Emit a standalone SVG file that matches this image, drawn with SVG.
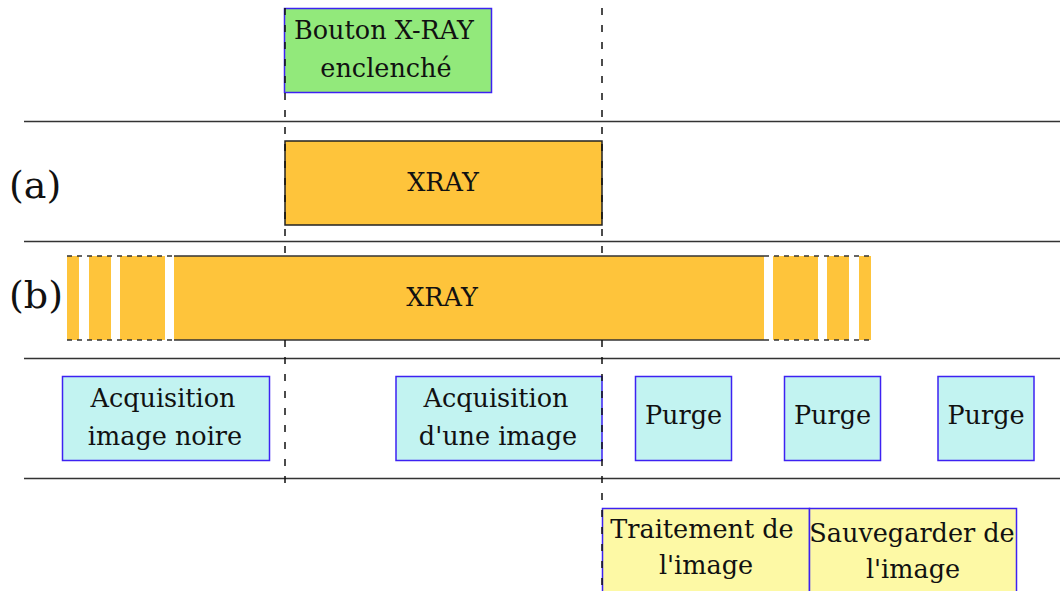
<svg xmlns="http://www.w3.org/2000/svg" width="1060" height="591" viewBox="0 0 1060 591">
<style>
text{font-family:"DejaVu Serif","Liberation Serif",serif;font-size:25.5px;fill:#111;text-anchor:middle}
.lbl{font-size:38px;text-anchor:start}
.sep{stroke:#333;stroke-width:1.5}
.box{stroke:#3d22f2;stroke-width:1.5}
.g{fill:#92e97b}.c{fill:#c2f3f1}.y{fill:#fdf9a5}.o{fill:#fec43b}
.dash{stroke:#111;stroke-width:1.5;stroke-dasharray:7 10;fill:none}
.sdash{stroke:#333;stroke-width:1.5;stroke-dasharray:5 5;fill:none}
.solid{stroke:#333;stroke-width:1.5;fill:none}
</style>
<rect width="1060" height="591" fill="#fff"/>
<g id="separators">
<line class="sep" x1="24" y1="121.5" x2="1060" y2="121.5"/>
<line class="sep" x1="24" y1="241.5" x2="1060" y2="241.5"/>
<line class="sep" x1="24" y1="358.5" x2="1060" y2="358.5"/>
<line class="sep" x1="24" y1="478.5" x2="1060" y2="478.5"/>
</g>
<text class="lbl" x="9" y="198">(a)</text>
<text class="lbl" x="9" y="308">(b)</text>
<g id="bouton">
<rect class="box g" x="284.5" y="8.5" width="207" height="84"/>
<text x="384" y="39">Bouton X-RAY</text>
<text x="386" y="77">enclenché</text>
</g>
<g id="xray-a">
<rect class="o" x="285" y="141" width="317" height="84" stroke="#222" stroke-width="1.5"/>
<text x="443" y="191">XRAY</text>
</g>
<g id="xray-b">
<rect class="o" x="67" y="256" width="12" height="84"/>
<rect class="o" x="89" y="256" width="22" height="84"/>
<rect class="o" x="120" y="256" width="45" height="84"/>
<rect class="o" x="174" y="256" width="590" height="84"/>
<rect class="o" x="773" y="256" width="45" height="84"/>
<rect class="o" x="827" y="256" width="22" height="84"/>
<rect class="o" x="859" y="256" width="12" height="84"/>
<line class="sdash" x1="67" y1="256" x2="174" y2="256"/>
<line class="sdash" x1="67" y1="340" x2="174" y2="340"/>
<line class="sdash" x1="764" y1="256" x2="871" y2="256"/>
<line class="sdash" x1="764" y1="340" x2="871" y2="340"/>
<line class="solid" x1="174" y1="256" x2="764" y2="256"/>
<line class="solid" x1="174" y1="340" x2="764" y2="340"/>
<text x="442" y="306">XRAY</text>
</g>
<g id="acq-noire">
<rect class="box c" x="62.5" y="376.5" width="207" height="84"/>
<text x="163" y="407">Acquisition</text>
<text x="165" y="445">image noire</text>
</g>
<g id="acq-image">
<rect class="box c" x="396" y="376.5" width="206" height="84"/>
<text x="496" y="407">Acquisition</text>
<text x="498" y="445">d'une image</text>
</g>
<g id="purge1">
<rect class="box c" x="635.5" y="376.5" width="96" height="84"/>
<text x="683.5" y="424">Purge</text>
</g>
<g id="purge2">
<rect class="box c" x="784.5" y="376.5" width="96" height="84"/>
<text x="832.5" y="424">Purge</text>
</g>
<g id="purge3">
<rect class="box c" x="938" y="376.5" width="96" height="84"/>
<text x="986" y="424">Purge</text>
</g>
<g id="traitement">
<rect class="box y" x="602.5" y="508.5" width="207" height="90"/>
<text x="702" y="538">Traitement de</text>
<text x="706" y="574">l'image</text>
</g>
<g id="sauvegarder">
<rect class="box y" x="809.5" y="508.5" width="207" height="90"/>
<text x="912" y="542">Sauvegarder de</text>
<text x="913" y="578">l'image</text>
</g>
<g id="connectors">
<line class="dash" x1="285" y1="8" x2="285" y2="256"/>
<line class="dash" x1="285" y1="340" x2="285" y2="490"/>
<line class="dash" x1="602" y1="8" x2="602" y2="256"/>
<line class="dash" x1="602" y1="340" x2="602" y2="591"/>
</g>
</svg>
